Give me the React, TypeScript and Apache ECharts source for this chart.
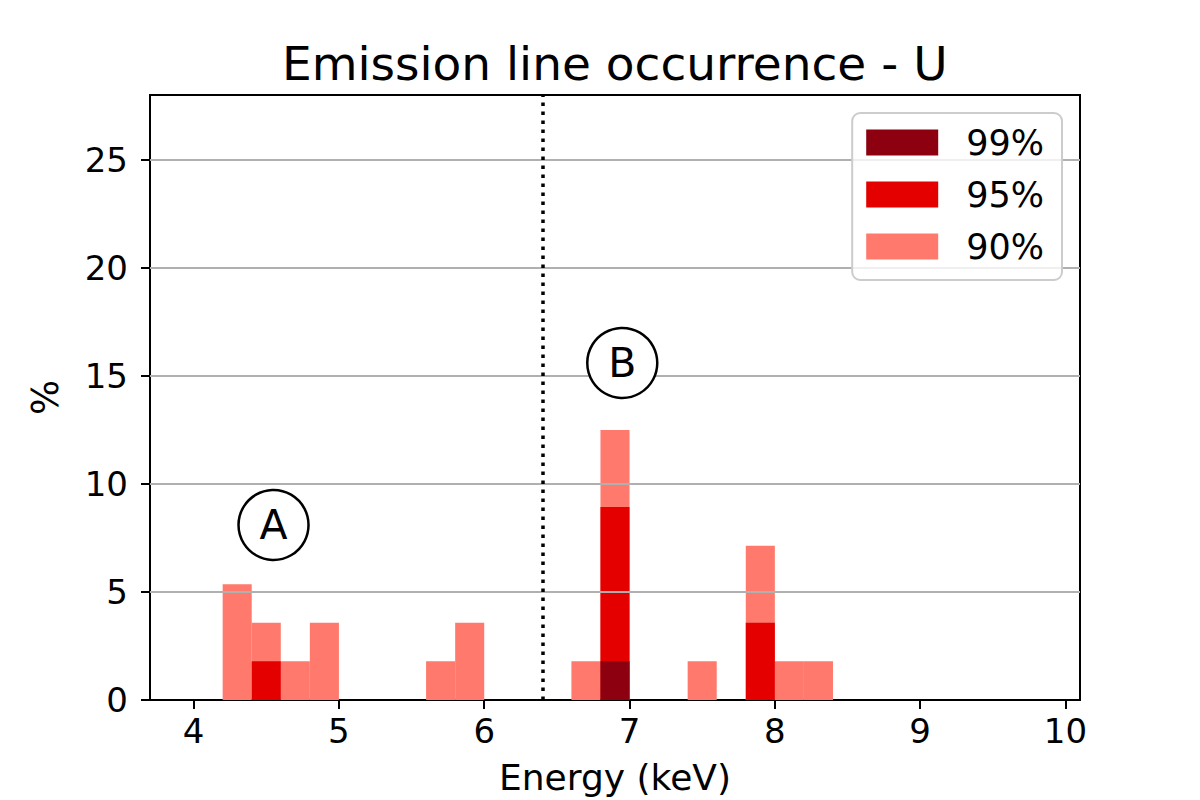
import React, { useEffect, useRef } from "react";
import * as echarts from "echarts";

const BIN_WIDTH = 0.2;
const bins90 = [4.2, 4.4, 4.6, 4.8, 5.6, 5.8, 6.6, 6.8, 7.4, 7.8, 8.0, 8.2];
const values90 = [5.36, 3.57, 1.79, 3.57, 1.79, 3.57, 1.79, 12.5, 1.79, 7.14, 1.79, 1.79];
const bins95 = [4.4, 6.8, 7.8];
const values95 = [1.79, 8.93, 3.57];
const bins99 = [6.8];
const values99 = [1.79];
const xTicks = [4, 5, 6, 7, 8, 9, 10];
const yTicks = [0, 5, 10, 15, 20, 25];
const gridValues = [5, 10, 15, 20, 25];
const refLineEnergy = 6.4;
const annotations = [
  { x: 4.55, y: 8.1, label: "A" },
  { x: 6.95, y: 15.6, label: "B" },
];

const C99 = "#8c000f";
const C95 = "#e50000";
const C90 = "#ff796c";
const FONT = "DejaVu Sans";

function histSeries(name: string, bins: number[], values: number[], color: string, extra: any = {}) {
  return {
    name,
    type: "custom",
    z: 2,
    itemStyle: { color },
    encode: { x: 0, y: 1 },
    data: bins.map((b, i) => [b, values[i]]),
    renderItem: (params: any, api: any) => {
      const x0 = api.value(0);
      const h = api.value(1);
      const p0 = api.coord([x0, h]);
      const p1 = api.coord([x0 + BIN_WIDTH, 0]);
      return {
        type: "rect",
        shape: { x: p0[0], y: p0[1], width: p1[0] - p0[0], height: p1[1] - p0[1] },
        style: { fill: color },
      };
    },
    ...extra,
  };
}

export default function App() {
  const ref = useRef<HTMLDivElement>(null);
  useEffect(() => {
    document.body.style.margin = "0";
    const chart = echarts.init(ref.current!, null, { renderer: "svg" });
    chart.setOption({
      animation: false,
      backgroundColor: "#ffffff",
      textStyle: { fontFamily: FONT },
      title: {
        text: "Emission line occurrence - U",
        left: 282,
        top: 40,
        padding: 0,
        textStyle: { fontFamily: FONT, fontSize: 47, fontWeight: "normal", color: "#000" },
      },
      grid: {
        left: 150,
        right: 120,
        top: 95,
        bottom: 100,
        show: true,
        borderColor: "#000",
        borderWidth: 2,
        backgroundColor: "transparent",
      },
      legend: {
        data: [
          { name: "99%", icon: "rect" },
          { name: "95%", icon: "rect" },
          { name: "90%", icon: "rect" },
        ],
        orient: "vertical",
        right: 138,
        top: 113,
        itemWidth: 72,
        itemHeight: 26,
        itemGap: 17,
        padding: [12, 18, 16, 14],
        backgroundColor: "rgba(255,255,255,0.8)",
        borderColor: "#cccccc",
        borderWidth: 2,
        borderRadius: 8,
        selectedMode: false,
        z: 10,
        textStyle: { fontFamily: FONT, fontSize: 35, color: "#000", padding: [0, 0, 0, 23], lineHeight: 26 },
      },
      xAxis: {
        type: "value",
        min: 3.7,
        max: 10.1,
        name: "Energy (keV)",
        nameLocation: "middle",
        nameGap: 59,
        nameTextStyle: { fontFamily: FONT, fontSize: 36, color: "#000" },
        axisLine: { show: true, lineStyle: { color: "#000", width: 2 } },
        axisTick: { show: true, inside: false, length: 9, lineStyle: { color: "#000", width: 2 }, customValues: xTicks },
        axisLabel: { fontFamily: FONT, fontSize: 34, color: "#000", margin: 14, customValues: xTicks },
        splitLine: { show: false },
      },
      yAxis: {
        type: "value",
        min: 0,
        max: 28,
        name: "%",
        nameLocation: "middle",
        nameGap: 86,
        nameTextStyle: { fontFamily: FONT, fontSize: 37, color: "#000" },
        axisLine: { show: true, lineStyle: { color: "#000", width: 2 } },
        axisTick: { show: true, inside: false, length: 9, lineStyle: { color: "#000", width: 2 }, customValues: yTicks },
        axisLabel: { fontFamily: FONT, fontSize: 34, color: "#000", margin: 22, customValues: yTicks },
        splitLine: { show: false },
      },
      series: [
        histSeries("90%", bins90, values90, C90, {
          markLine: {
            silent: true,
            z: 3,
            symbol: ["none", "none"],
            label: { show: false },
            emphasis: { disabled: true },
            data: [
              ...gridValues.map((v) => ({ yAxis: v, lineStyle: { color: "#b0b0b0", width: 2, type: "solid" } })),
              { xAxis: refLineEnergy, lineStyle: { color: "#000", width: 3.5, type: [3.5, 5.5] } },
            ],
          },
        }),
        histSeries("95%", bins95, values95, C95),
        histSeries("99%", bins99, values99, C99),
        {
          name: "annotations",
          type: "scatter",
          z: 5,
          silent: true,
          symbol: "circle",
          symbolSize: 70,
          itemStyle: { color: "#fff", borderColor: "#000", borderWidth: 2.5, opacity: 1 },
          label: {
            show: true,
            position: "inside",
            formatter: (p: any) => p.data[2],
            fontFamily: FONT,
            fontSize: 41,
            color: "#000",
            opacity: 1,
          },
          data: annotations.map((a) => [a.x, a.y, a.label]),
        },
      ],
    });
    return () => chart.dispose();
  }, []);
  return <div ref={ref} style={{ width: 1200, height: 800 }} />;
}
